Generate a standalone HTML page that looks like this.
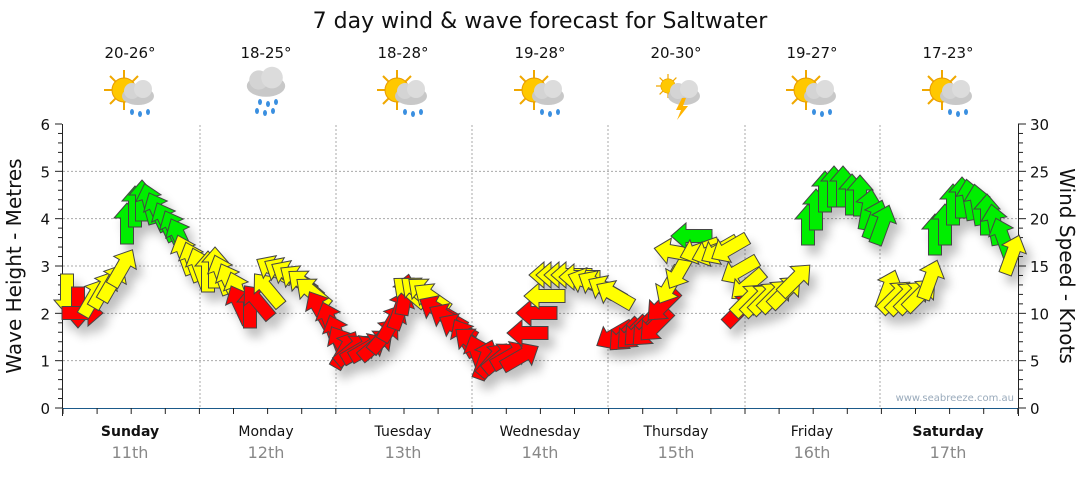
<!DOCTYPE html>
<html><head><meta charset="utf-8"><style>
body{margin:0;background:#fff;width:1080px;height:475px;overflow:hidden}
svg{font-family:"DejaVu Sans","Liberation Sans",sans-serif}
</style></head><body>
<svg id="s" width="1080" height="475" viewBox="0 0 1080 475" xmlns="http://www.w3.org/2000/svg">
<defs>
<filter id="sh" x="-50%" y="-50%" width="200%" height="200%"><feGaussianBlur in="SourceAlpha" stdDeviation="5"/><feOffset dx="6" dy="9"/><feComponentTransfer><feFuncA type="linear" slope="0.25"/></feComponentTransfer><feMerge><feMergeNode/><feMergeNode in="SourceGraphic"/></feMerge></filter>
<g id="sun"><g stroke="#f0a800" stroke-width="2"><line x1="-20" y1="0" x2="20" y2="0"/><line x1="0" y1="-20" x2="0" y2="20"/><line x1="-14" y1="-14" x2="14" y2="14"/><line x1="-14" y1="14" x2="14" y2="-14"/></g><circle r="12" fill="#ffc800" stroke="#e89a00"/></g>
<g id="cloud"><ellipse cx="0" cy="0" rx="16" ry="9" fill="#c8c8c8"/><circle cx="-6" cy="-5" r="8" fill="#d4d4d4"/><circle cx="5" cy="-7" r="9" fill="#dcdcdc"/></g>
<g id="rain" fill="#3a8fe0"><ellipse cx="-6" cy="0" rx="2" ry="3"/><ellipse cx="2" cy="2" rx="2" ry="3"/><ellipse cx="10" cy="0" rx="2" ry="3"/></g>
</defs>
<text x="540" y="28" font-size="22" text-anchor="middle" fill="#111">7 day wind &amp; wave forecast for Saltwater</text>
<g font-size="15" text-anchor="middle" fill="#111">
<text x="130" y="58">20-26°</text><text x="266" y="58">18-25°</text><text x="403" y="58">18-28°</text><text x="540" y="58">19-28°</text><text x="676" y="58">20-30°</text><text x="812" y="58">19-27°</text><text x="948" y="58">17-23°</text>
</g>
<g id="icons"></g>
<g stroke="#aaa" stroke-dasharray="2,2" stroke-width="1" id="grid"></g>
<g id="axes" stroke="#222" fill="none"></g>
<g font-size="15" fill="#111" id="lbl"></g>
<text transform="translate(21,266) rotate(-90)" font-size="20" text-anchor="middle" fill="#111">Wave Height - Metres</text>
<text transform="translate(1060,266) rotate(90)" font-size="20" text-anchor="middle" fill="#111">Wind Speed - Knots</text>
<text x="1014" y="401" font-size="10" text-anchor="end" fill="#9ab">www.seabreeze.com.au</text>
<g font-size="14" text-anchor="middle" fill="#111">
<text x="130" y="436" font-weight="bold">Sunday</text><text x="266" y="436">Monday</text><text x="403" y="436">Tuesday</text><text x="540" y="436">Wednesday</text><text x="676" y="436">Thursday</text><text x="812" y="436">Friday</text><text x="948" y="436" font-weight="bold">Saturday</text>
</g>
<g font-size="16" text-anchor="middle" fill="#888">
<text x="130" y="458">11th</text><text x="266" y="458">12th</text><text x="403" y="458">13th</text><text x="540" y="458">14th</text><text x="676" y="458">15th</text><text x="812" y="458">16th</text><text x="948" y="458">17th</text>
</g>
<g id="arrows" filter="url(#sh)" stroke="#444" stroke-width="1"></g>
</svg>
<script>
var NS="http://www.w3.org/2000/svg";
function el(p,t,a){var e=document.createElementNS(NS,t);for(var k in a)e.setAttribute(k,a[k]);document.getElementById(p).appendChild(e);return e;}
for(var i=1;i<=5;i++){var y=408-i*47.33;el('grid','line',{x1:63,x2:1018,y1:y,y2:y});}
[200,336,472,608,745,880].forEach(function(x){el('grid','line',{x1:x,x2:x,y1:125,y2:408});});
el('axes','line',{x1:62.5,x2:62.5,y1:124,y2:416});
el('axes','line',{x1:1018.5,x2:1018.5,y1:124,y2:416});
el('axes','line',{x1:62,x2:1019,y1:408.5,y2:408.5,stroke:'#1b5a8a'});
for(var i=0;i<=30;i++){var y=408-i*9.467;el('axes','line',{x1:62,x2:i%5==0?55:58,y1:y,y2:y});el('axes','line',{x1:1018,x2:i%5==0?1026:1023,y1:y,y2:y});}
for(var i=0;i<=6;i++){var t=el('lbl','text',{x:50,y:408-i*47.33+6,'text-anchor':'end'});t.textContent=i;}
for(var i=0;i<=6;i++){var t=el('lbl','text',{x:1030,y:408-i*47.33+6});t.textContent=i*5;}
for(var x=63;x<=1018;x+=34.1){el('axes','line',{x1:x,x2:x,y1:408,y2:414});}
[[130,0],[266,1],[403,0],[540,0],[676,2],[812,0],[948,0]].forEach(function(c,i){
 var g=el('icons','g',{transform:'translate('+c[0]+',92)'});
 if(c[1]!=1){var u=document.createElementNS(NS,'use');u.setAttribute('href','#sun');u.setAttribute('transform',c[1]==2?'translate(-8,-6) scale(0.6)':'translate(-6,-2)');g.appendChild(u);}
 var u2=document.createElementNS(NS,'use');u2.setAttribute('href','#cloud');u2.setAttribute('transform',c[1]==1?'translate(0,-6) scale(1.2)':'translate(8,4)');g.appendChild(u2);
 if(c[1]==2){var b=document.createElementNS(NS,'polygon');b.setAttribute('points','6,6 0,18 5,18 1,28 12,14 7,14 10,6');b.setAttribute('fill','#ffb400');g.appendChild(b);}
 else{var r=document.createElementNS(NS,'use');r.setAttribute('href','#rain');r.setAttribute('transform',c[1]==1?'translate(0,10)':'translate(8,20)');g.appendChild(r);
  if(c[1]==1){var r2=r.cloneNode();r2.setAttribute('transform','translate(-3,19)');g.appendChild(r2);}}
});
var C={Y:'#ffff00',R:'#ff0000',G:'#00ee00'};
var A=[
[67,294,180,'Y'],[78,307,180,'R'],[82,313,90,'R'],[93,298,30,'Y'],[103,290,30,'Y'],[112,283,30,'Y'],[122,268,30,'Y'],
[127,224,0,'G'],[135,207,0,'G'],[142,201,0,'G'],[150,204,-15,'G'],[158,212,-25,'G'],[166,222,-25,'G'],[174,230,-25,'G'],[180,238,-25,'G'],
[185,255,-20,'Y'],[193,262,-20,'Y'],[200,268,-20,'Y'],[208,272,0,'Y'],[215,268,0,'Y'],[222,275,-20,'Y'],[230,283,-25,'Y'],[238,292,-20,'Y'],
[240,305,-25,'R'],[250,308,0,'R'],[258,302,-40,'R'],[268,290,-40,'Y'],
[275,270,-60,'Y'],[283,272,-60,'Y'],[290,275,-60,'Y'],[298,280,-55,'Y'],[305,285,-50,'Y'],[313,293,-50,'Y'],
[320,310,-30,'R'],[330,322,-20,'R'],[337,335,-20,'R'],[342,345,-30,'R'],
[345,350,30,'R'],[352,350,50,'R'],[360,350,60,'R'],[368,348,60,'R'],[376,345,50,'R'],[384,336,40,'R'],[392,323,30,'R'],[400,310,20,'R'],[405,295,10,'R'],
[410,292,-50,'Y'],[418,292,-50,'Y'],[425,293,-50,'Y'],[432,298,-55,'Y'],
[438,310,-60,'R'],[448,318,-60,'R'],[458,328,-60,'R'],[465,338,-30,'R'],[472,343,-50,'R'],
[478,355,-20,'R'],[485,360,20,'R'],[493,360,40,'R'],[500,358,50,'R'],[510,356,60,'R'],[520,357,60,'R'],
[528,333,-90,'R'],[537,313,-90,'R'],[545,296,-90,'Y'],[550,275,-90,'Y'],[557,275,-90,'Y'],[565,275,-90,'Y'],[572,275,-90,'Y'],[580,277,-90,'Y'],[588,282,-70,'Y'],[597,285,-60,'Y'],[607,290,-60,'Y'],[615,295,-60,'Y'],
[615,335,-120,'R'],[625,335,-135,'R'],[633,333,-135,'R'],[640,330,-135,'R'],[648,330,-135,'R'],[656,325,-135,'R'],[663,305,-135,'R'],
[670,285,-150,'Y'],[680,270,-150,'Y'],[675,252,-80,'Y'],[692,236,-90,'G'],
[700,250,-110,'Y'],[712,252,-110,'Y'],[720,250,-120,'Y'],[730,248,-120,'Y'],[740,270,-120,'Y'],[748,285,-130,'Y'],[740,310,45,'R'],
[748,300,45,'Y'],[758,300,45,'Y'],[766,298,45,'Y'],[775,296,45,'Y'],[785,292,45,'Y'],[795,280,45,'Y'],
[808,225,0,'G'],[816,210,0,'G'],[825,192,0,'G'],[834,187,0,'G'],[843,187,0,'G'],[852,195,0,'G'],[860,196,0,'G'],[868,210,10,'G'],[875,220,20,'G'],[882,225,20,'G'],
[888,290,20,'Y'],[895,297,45,'Y'],[903,298,45,'Y'],[912,297,45,'Y'],[920,295,45,'Y'],[930,280,20,'Y'],
[935,235,0,'G'],[945,225,0,'G'],[953,205,0,'G'],[962,198,0,'G'],[970,200,-10,'G'],[978,205,-10,'G'],[987,215,0,'G'],[995,225,-10,'G'],[1003,238,-20,'G'],[1012,255,20,'Y']
];
A.forEach(function(a){el('arrows','polygon',{points:'0,-21 13,-6 6.5,-6 6.5,20 -6.5,20 -6.5,-6 -13,-6',fill:C[a[3]],transform:'translate('+a[0]+','+a[1]+') rotate('+a[2]+')'});});
</script>
</body></html>
